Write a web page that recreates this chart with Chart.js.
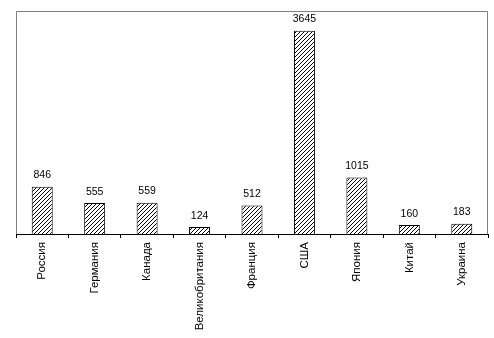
<!DOCTYPE html>
<html>
<head>
<meta charset="utf-8">
<script src="https://cdn.jsdelivr.net/npm/chart.js@4"></script>
<style>
  html, body { margin: 0; padding: 0; background: #fff; }
  #wrap { width: 494px; height: 338px; }
</style>
</head>
<body>
<div id="wrap"><canvas id="chart" width="494" height="338"></canvas></div>
<script>
const countries = ["Россия", "Германия", "Канада", "Великобритания", "Франция", "США", "Япония", "Китай", "Украина"];
const values = [846, 555, 559, 124, 512, 3645, 1015, 160, 183];

function makeHatch() {
  const c = document.createElement("canvas");
  c.width = 4;
  c.height = 4;
  const g = c.getContext("2d");
  g.fillStyle = "#fff";
  g.fillRect(0, 0, 4, 4);
  g.fillStyle = "#000";
  for (let i = 0; i < 4; i++) g.fillRect(3 - i, i, 1, 1);
  return g.createPattern(c, "repeat");
}

// gray frame round the plot area, black category axis drawn by the x scale
const frame = {
  id: "frame",
  beforeDatasetsDraw(chart) {
    const { ctx, chartArea: a } = chart;
    ctx.save();
    ctx.strokeStyle = "#808080";
    ctx.lineWidth = 1;
    ctx.beginPath();
    ctx.moveTo(a.left + 0.5, a.bottom);
    ctx.lineTo(a.left + 0.5, a.top + 0.5);
    ctx.lineTo(a.right - 0.5, a.top + 0.5);
    ctx.lineTo(a.right - 0.5, a.bottom);
    ctx.stroke();
    ctx.restore();
  },
};

const valueLabels = {
  id: "valueLabels",
  afterDatasetsDraw(chart) {
    const { ctx } = chart;
    const meta = chart.getDatasetMeta(0);
    ctx.save();
    ctx.font = "10.5px 'Liberation Sans', Arial, sans-serif";
    ctx.fillStyle = "#000";
    ctx.textAlign = "center";
    ctx.textBaseline = "bottom";
    meta.data.forEach((bar, i) => {
      ctx.fillText(String(values[i]), bar.x, bar.y - 6);
    });
    ctx.restore();
  },
};

new Chart(document.getElementById("chart"), {
  type: "bar",
  data: {
    labels: countries,
    datasets: [
      {
        data: values,
        backgroundColor: makeHatch(),
        borderColor: "#000",
        borderWidth: 1,
        borderSkipped: "bottom",
        barPercentage: 0.4,
        categoryPercentage: 1,
      },
    ],
  },
  options: {
    responsive: false,
    animation: false,
    layout: { padding: { left: 16, right: 6, top: 11, bottom: 0 } },
    plugins: { legend: { display: false }, tooltip: { enabled: false } },
    scales: {
      x: {
        offset: true,
        grid: {
          offset: true,
          drawOnChartArea: false,
          drawTicks: true,
          tickLength: 4,
          color: "#000",
        },
        border: { color: "#000", width: 1 },
        ticks: {
          color: "#000",
          font: { family: "'Liberation Sans', Arial, sans-serif", size: 11.5 },
          minRotation: 90,
          maxRotation: 90,
          padding: 4,
          autoSkip: false,
        },
        afterFit(axis) {
          axis.height = 104;
        },
      },
      y: {
        display: false,
        min: 0,
        max: 4000,
      },
    },
  },
  plugins: [frame, valueLabels],
});
</script>
</body>
</html>
